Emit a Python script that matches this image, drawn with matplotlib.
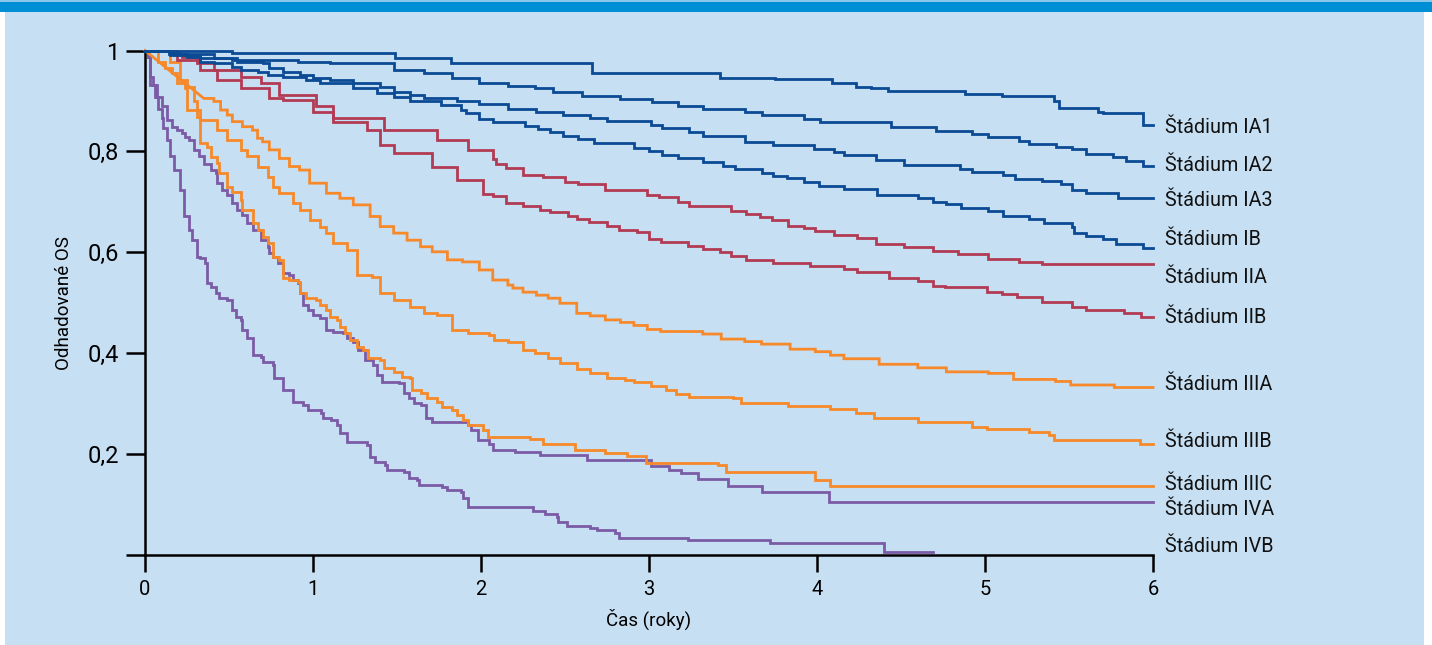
import matplotlib.pyplot as plt
from matplotlib.patches import Rectangle

plt.rcParams['font.family'] = ['Roboto', 'DejaVu Sans']

# Kaplan-Meier estimates (time in years, estimated OS)
ia1_t = [0, 0.52, 1.49, 1.82, 2.66, 3.42, 3.75, 4.09, 4.23, 4.32, 4.42, 4.88, 5.10, 5.41, 5.44, 5.67, 5.70, 5.94, 6.0]
ia1_s = [1.0, 0.996, 0.985, 0.975, 0.955, 0.945, 0.943, 0.936, 0.928, 0.926, 0.920, 0.913, 0.910, 0.899, 0.887, 0.879, 0.876, 0.852, 0.852]

ia2_t = [0, 0.14, 0.20, 0.41, 0.52, 0.91, 1.10, 1.48, 1.66, 1.83, 1.99, 2.16, 2.32, 2.43, 2.60, 2.83, 3.02, 3.17,
         3.32, 3.57, 3.67, 3.92, 4.02, 4.44, 4.71, 4.92, 5.02, 5.20, 5.26, 5.42, 5.52, 5.60, 5.76, 5.84, 5.94, 6.0]
ia2_s = [1.0, 0.998, 0.994, 0.985, 0.981, 0.978, 0.975, 0.961, 0.955, 0.945, 0.936, 0.930, 0.925, 0.918, 0.910, 0.903,
         0.897, 0.889, 0.884, 0.879, 0.872, 0.864, 0.858, 0.849, 0.840, 0.835, 0.829, 0.821, 0.814, 0.809, 0.804, 0.794,
         0.788, 0.781, 0.771, 0.771]

ia3_t = [0, 0.15, 0.33, 0.55, 0.70, 0.74, 0.82, 0.92, 1.0, 1.10, 1.24, 1.40, 1.48, 1.58, 1.66, 1.86, 1.99, 2.16, 2.33,
         2.49, 2.65, 2.75, 3.01, 3.08, 3.24, 3.32, 3.57, 3.74, 3.98, 4.10, 4.16, 4.35, 4.52, 4.85, 4.92, 5.11, 5.18,
         5.34, 5.45, 5.52, 5.60, 5.79, 6.0]
ia3_s = [1.0, 0.991, 0.985, 0.978, 0.975, 0.965, 0.958, 0.951, 0.945, 0.942, 0.935, 0.928, 0.918, 0.912, 0.905, 0.899,
         0.893, 0.884, 0.878, 0.872, 0.867, 0.860, 0.852, 0.846, 0.838, 0.831, 0.819, 0.812, 0.805, 0.799, 0.793, 0.782,
         0.774, 0.765, 0.760, 0.753, 0.745, 0.741, 0.735, 0.724, 0.717, 0.708, 0.708]

ib_t = [0, 0.14, 0.25, 0.33, 0.41, 0.52, 0.57, 0.67, 0.73, 0.82, 0.96, 1.04, 1.24, 1.38, 1.48, 1.58, 1.76, 1.88, 1.91,
        1.99, 2.07, 2.26, 2.34, 2.41, 2.49, 2.58, 2.67, 2.91, 3.0, 3.08, 3.17, 3.32, 3.44, 3.51, 3.67, 3.74, 3.82, 3.92,
        4.01, 4.16, 4.36, 4.60, 4.69, 4.77, 4.86, 5.02, 5.11, 5.26, 5.35, 5.52, 5.53, 5.60, 5.70, 5.78, 5.94, 6.0]
ib_s = [1.0, 0.994, 0.988, 0.978, 0.975, 0.968, 0.961, 0.958, 0.951, 0.948, 0.942, 0.935, 0.925, 0.915, 0.908, 0.899,
        0.892, 0.882, 0.876, 0.864, 0.858, 0.851, 0.844, 0.838, 0.831, 0.825, 0.817, 0.806, 0.800, 0.793, 0.786, 0.778,
        0.772, 0.765, 0.758, 0.752, 0.747, 0.739, 0.732, 0.726, 0.714, 0.708, 0.700, 0.695, 0.687, 0.681, 0.671, 0.666,
        0.658, 0.650, 0.639, 0.633, 0.626, 0.616, 0.608, 0.608]

iia_t = [0, 0.15, 0.18, 0.22, 0.31, 0.41, 0.57, 0.69, 0.80, 1.02, 1.12, 1.42, 1.74, 1.92, 2.07, 2.09, 2.15, 2.25,
         2.37, 2.50, 2.58, 2.74, 2.99, 3.06, 3.17, 3.24, 3.49, 3.58, 3.66, 3.73, 3.83, 3.92, 3.99, 4.10, 4.24, 4.35,
         4.52, 4.69, 4.84, 5.02, 5.20, 5.34, 6.0]
iia_s = [1.0, 0.998, 0.991, 0.988, 0.975, 0.961, 0.948, 0.935, 0.912, 0.889, 0.866, 0.842, 0.823, 0.803, 0.785, 0.775,
         0.767, 0.753, 0.749, 0.740, 0.735, 0.724, 0.714, 0.709, 0.699, 0.692, 0.682, 0.676, 0.669, 0.664, 0.653, 0.648,
         0.643, 0.634, 0.629, 0.616, 0.610, 0.603, 0.596, 0.587, 0.581, 0.577, 0.577]

iib_t = [0, 0.19, 0.33, 0.43, 0.57, 0.74, 0.82, 1.0, 1.12, 1.32, 1.40, 1.48, 1.71, 1.86, 2.01, 2.07, 2.15, 2.25, 2.35,
         2.41, 2.52, 2.57, 2.64, 2.75, 2.82, 2.93, 3.0, 3.07, 3.23, 3.32, 3.42, 3.49, 3.58, 3.74, 3.96, 4.16, 4.24,
         4.43, 4.60, 4.69, 4.76, 5.01, 5.10, 5.19, 5.34, 5.52, 5.60, 5.83, 5.93, 6.0]
iib_s = [1.0, 0.981, 0.961, 0.942, 0.925, 0.905, 0.902, 0.879, 0.859, 0.842, 0.813, 0.796, 0.770, 0.743, 0.716, 0.712,
         0.698, 0.692, 0.684, 0.679, 0.671, 0.666, 0.660, 0.653, 0.644, 0.640, 0.626, 0.620, 0.613, 0.607, 0.600, 0.593,
         0.585, 0.579, 0.572, 0.566, 0.560, 0.550, 0.544, 0.534, 0.531, 0.521, 0.517, 0.511, 0.501, 0.492, 0.486, 0.479,
         0.471, 0.471]

iiia_t = [0, 0.35, 0.41, 0.45, 0.49, 0.52, 0.58, 0.64, 0.67, 0.70, 0.74, 0.80, 0.86, 0.92, 0.98, 1.08, 1.16, 1.24,
          1.34, 1.40, 1.48, 1.56, 1.64, 1.71, 1.80, 1.89, 1.99, 2.07, 2.16, 2.19, 2.25, 2.33, 2.40, 2.47, 2.57, 2.65,
          2.74, 2.83, 2.91, 2.99, 3.07, 3.32, 3.43, 3.57, 3.67, 3.84, 3.99, 4.08, 4.16, 4.37, 4.60, 4.77, 5.02, 5.17,
          5.42, 5.51, 5.77, 6.0]
iiia_s = [1.0, 0.905, 0.899, 0.882, 0.872, 0.859, 0.849, 0.842, 0.826, 0.819, 0.803, 0.786, 0.770, 0.763, 0.737,
          0.717, 0.707, 0.694, 0.671, 0.651, 0.638, 0.624, 0.611, 0.601, 0.585, 0.581, 0.565, 0.545, 0.535, 0.529,
          0.521, 0.515, 0.509, 0.499, 0.479, 0.474, 0.466, 0.461, 0.455, 0.447, 0.443, 0.438, 0.428, 0.423, 0.418,
          0.408, 0.403, 0.396, 0.389, 0.378, 0.371, 0.363, 0.360, 0.348, 0.344, 0.337, 0.332, 0.332]

iiib_t = [0, 0.15, 0.21, 0.25, 0.29, 0.31, 0.33, 0.43, 0.49, 0.57, 0.61, 0.67, 0.73, 0.76, 0.80, 0.88, 0.92, 0.98,
          1.04, 1.08, 1.12, 1.20, 1.26, 1.35, 1.40, 1.48, 1.58, 1.66, 1.74, 1.83, 1.92, 2.05, 2.08, 2.16, 2.25, 2.32,
          2.40, 2.47, 2.57, 2.65, 2.75, 2.86, 2.91, 3.01, 3.10, 3.16, 3.24, 3.50, 3.55, 3.83, 4.08, 4.23, 4.34, 4.60,
          4.92, 5.01, 5.26, 5.38, 5.41, 5.92, 6.0]
iiib_s = [1.0, 0.978, 0.942, 0.928, 0.899, 0.882, 0.862, 0.842, 0.823, 0.803, 0.790, 0.770, 0.750, 0.730, 0.717,
          0.697, 0.684, 0.664, 0.651, 0.638, 0.618, 0.605, 0.555, 0.551, 0.519, 0.506, 0.492, 0.480, 0.476, 0.446,
          0.440, 0.436, 0.426, 0.422, 0.406, 0.400, 0.390, 0.381, 0.368, 0.361, 0.351, 0.346, 0.342, 0.335, 0.327,
          0.319, 0.314, 0.312, 0.302, 0.295, 0.289, 0.281, 0.271, 0.264, 0.254, 0.250, 0.243, 0.238, 0.228, 0.221,
          0.221]

iiic_t = [0, 0.08, 0.12, 0.16, 0.19, 0.24, 0.25, 0.31, 0.33, 0.37, 0.39, 0.43, 0.44, 0.49, 0.52, 0.57, 0.58, 0.64,
          0.67, 0.70, 0.73, 0.76, 0.80, 0.82, 0.86, 0.91, 0.92, 0.96, 1.02, 1.04, 1.08, 1.10, 1.14, 1.16, 1.19, 1.22,
          1.26, 1.30, 1.33, 1.40, 1.42, 1.48, 1.53, 1.58, 1.59, 1.64, 1.68, 1.74, 1.77, 1.83, 1.86, 1.89, 1.92, 2.01,
          2.04, 2.29, 2.37, 2.56, 2.74, 2.87, 2.98, 3.41, 3.46, 3.99, 4.08, 6.0]
iiic_s = [1.0, 0.977, 0.965, 0.955, 0.936, 0.926, 0.882, 0.868, 0.817, 0.809, 0.789, 0.777, 0.757, 0.729, 0.720,
          0.704, 0.684, 0.658, 0.644, 0.630, 0.618, 0.591, 0.585, 0.549, 0.545, 0.541, 0.519, 0.509, 0.506, 0.496,
          0.486, 0.472, 0.466, 0.452, 0.440, 0.426, 0.412, 0.406, 0.391, 0.387, 0.371, 0.363, 0.353, 0.351, 0.327,
          0.321, 0.311, 0.303, 0.293, 0.287, 0.278, 0.268, 0.258, 0.248, 0.234, 0.229, 0.220, 0.208, 0.202, 0.196,
          0.183, 0.178, 0.165, 0.149, 0.137, 0.137]

iva_t = [0, 0.02, 0.03, 0.05, 0.07, 0.10, 0.13, 0.16, 0.19, 0.22, 0.24, 0.26, 0.29, 0.32, 0.35, 0.39, 0.42, 0.43,
         0.46, 0.49, 0.52, 0.55, 0.58, 0.61, 0.64, 0.69, 0.73, 0.74, 0.76, 0.79, 0.82, 0.86, 0.88, 0.91, 0.92, 0.94,
         0.97, 1.0, 1.04, 1.08, 1.12, 1.18, 1.20, 1.24, 1.27, 1.31, 1.36, 1.38, 1.41, 1.51, 1.54, 1.57, 1.60, 1.64,
         1.67, 1.71, 1.92, 1.94, 1.98, 2.05, 2.07, 2.20, 2.35, 2.63, 3.01, 3.12, 3.19, 3.29, 3.47, 3.67, 4.07, 6.0]
iva_s = [1.0, 0.988, 0.948, 0.932, 0.908, 0.889, 0.862, 0.849, 0.842, 0.836, 0.829, 0.823, 0.803, 0.790, 0.776,
         0.763, 0.757, 0.737, 0.724, 0.714, 0.697, 0.684, 0.674, 0.658, 0.644, 0.624, 0.611, 0.598, 0.591, 0.578,
         0.558, 0.555, 0.545, 0.539, 0.519, 0.496, 0.486, 0.476, 0.470, 0.446, 0.442, 0.440, 0.430, 0.422, 0.406,
         0.387, 0.377, 0.357, 0.343, 0.341, 0.321, 0.311, 0.301, 0.297, 0.272, 0.264, 0.258, 0.248, 0.228, 0.220,
         0.208, 0.204, 0.198, 0.188, 0.177, 0.169, 0.163, 0.150, 0.137, 0.124, 0.105, 0.105]

ivb_t = [0, 0.02, 0.03, 0.06, 0.08, 0.10, 0.11, 0.13, 0.15, 0.17, 0.21, 0.23, 0.26, 0.28, 0.31, 0.33, 0.36, 0.37,
         0.39, 0.42, 0.44, 0.49, 0.52, 0.52, 0.54, 0.57, 0.58, 0.61, 0.64, 0.64, 0.69, 0.70, 0.76, 0.77, 0.82, 0.82,
         0.88, 0.88, 0.94, 0.97, 1.05, 1.06, 1.11, 1.14, 1.16, 1.20, 1.32, 1.34, 1.37, 1.43, 1.44, 1.54, 1.57, 1.62,
         1.63, 1.77, 1.80, 1.88, 1.89, 1.92, 2.31, 2.38, 2.45, 2.46, 2.51, 2.65, 2.69, 2.80, 2.82, 3.23, 3.72, 4.40,
         4.69]
ivb_s = [1.0, 0.988, 0.932, 0.908, 0.885, 0.866, 0.846, 0.823, 0.790, 0.763, 0.724, 0.671, 0.644, 0.624, 0.591,
         0.589, 0.579, 0.539, 0.531, 0.519, 0.509, 0.506, 0.500, 0.486, 0.472, 0.466, 0.446, 0.430, 0.412, 0.396,
         0.393, 0.383, 0.377, 0.351, 0.341, 0.327, 0.323, 0.303, 0.297, 0.287, 0.282, 0.272, 0.268, 0.258, 0.242,
         0.224, 0.218, 0.194, 0.184, 0.178, 0.169, 0.165, 0.153, 0.149, 0.139, 0.135, 0.129, 0.125, 0.113, 0.095,
         0.088, 0.081, 0.075, 0.065, 0.058, 0.054, 0.050, 0.043, 0.034, 0.030, 0.023, 0.005, 0.005]

stage_names = ["Štádium IA1", "Štádium IA2", "Štádium IA3", "Štádium IB", "Štádium IIA", "Štádium IIB",
               "Štádium IIIA", "Štádium IIIB", "Štádium IIIC", "Štádium IVA", "Štádium IVB"]
curves = [(ia1_t, ia1_s), (ia2_t, ia2_s), (ia3_t, ia3_s), (ib_t, ib_s), (iia_t, iia_s), (iib_t, iib_s),
          (iiia_t, iiia_s), (iiib_t, iiib_s), (iiic_t, iiic_s), (iva_t, iva_s), (ivb_t, ivb_s)]

y_ticks = [0, 0.2, 0.4, 0.6, 0.8, 1]
y_tick_labels = ["", "0,2", "0,4", "0,6", "0,8", "1"]
x_ticks = [0, 1, 2, 3, 4, 5, 6]

# styling
BLUE = "#0b4a94"
RED = "#b23b54"
ORANGE = "#f7892a"
PURPLE = "#7b5ba6"
colors = [BLUE] * 4 + [RED] * 2 + [ORANGE] * 3 + [PURPLE] * 2
label_y = [0.848, 0.773, 0.702, 0.626, 0.551, 0.470, 0.337, 0.225, 0.139, 0.091, 0.017]


def km_path(t, s, diag_first=False):
    xs, ys = [t[0]], [s[0]]
    for i in range(1, len(t)):
        if not (diag_first and i == 1):
            xs.append(t[i])
            ys.append(s[i - 1])
        xs.append(t[i])
        ys.append(s[i])
    return xs, ys


fig = plt.figure(figsize=(14.32, 6.45), dpi=100)
fig.patches.append(Rectangle((5 / 1432, 0), 1419 / 1432, 1 - 12 / 645, transform=fig.transFigure,
                             facecolor="#c6dff3", edgecolor="none", zorder=-2))
fig.patches.append(Rectangle((0, 1 - 12 / 645), 1, 10 / 645, transform=fig.transFigure,
                             facecolor="#008fd5", edgecolor="none", zorder=-2))
fig.patches.append(Rectangle((0, 1 - 2 / 645), 1, 2 / 645, transform=fig.transFigure,
                             facecolor="#8cc6ea", edgecolor="none", zorder=-2))

ax = fig.add_axes([145 / 1432, 1 - 555 / 645, 1008 / 1432, 504.5 / 645])
ax.set_zorder(1)
ax.patch.set_alpha(0)

for i in range(len(curves) - 1, -1, -1):
    t, s = curves[i]
    xs, ys = km_path(t, s, diag_first=(i == 6))
    ax.plot(xs, ys, color=colors[i], lw=2.0, solid_joinstyle="miter", clip_on=False, zorder=3)

for name, yl in zip(stage_names, label_y):
    ax.text(6.07, yl, name, fontsize=14.2, va="center", ha="left", color="#111111")

ax.set_xlim(0, 6)
ax.set_ylim(0, 1)
ax.spines["top"].set_visible(False)
ax.spines["right"].set_visible(False)
for side in ["left", "bottom"]:
    ax.spines[side].set_linewidth(1.8)
ax.set_yticks(y_ticks)
ax.set_yticklabels(y_tick_labels)
ax.set_xticks(x_ticks)
ax.tick_params(axis="y", length=13.5, width=1.8, labelsize=17, pad=5)
ax.tick_params(axis="x", length=12, width=1.8, labelsize=14.5, pad=6)
ax.set_xlabel("Čas (roky)", fontsize=13.5, labelpad=7)
ax.set_ylabel("Odhadované OS", fontsize=13.5, labelpad=11)

fig.savefig("out.png", dpi=100)
